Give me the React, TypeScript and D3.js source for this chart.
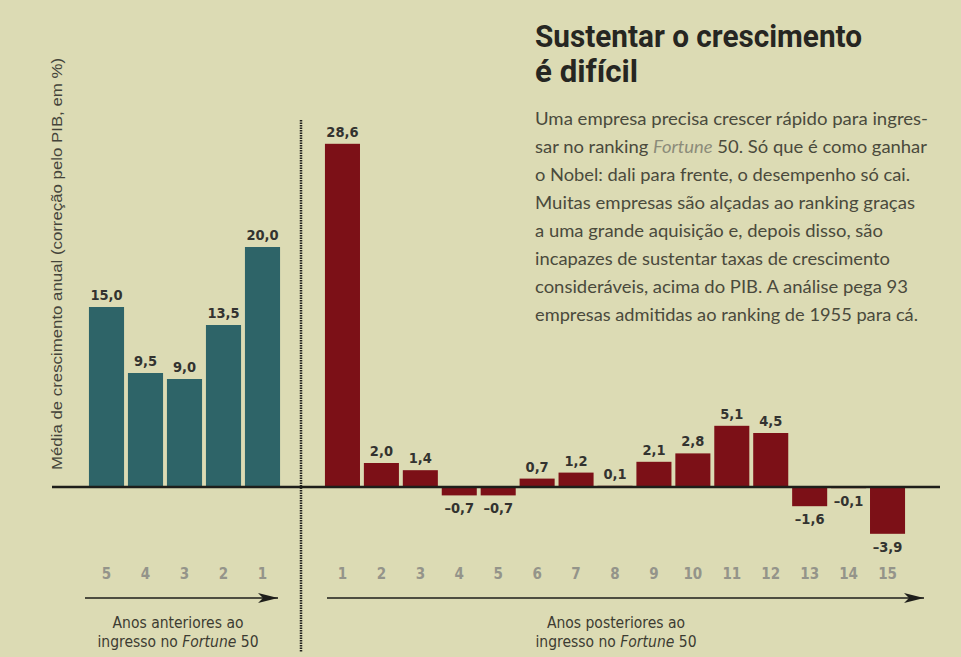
import React from "react";
import * as d3 from "d3";

const beforeYears = ["5", "4", "3", "2", "1"];
const beforeValues = [15.0, 9.5, 9.0, 13.5, 20.0];
const afterYears = ["1", "2", "3", "4", "5", "6", "7", "8", "9", "10", "11", "12", "13", "14", "15"];
const afterValues = [28.6, 2.0, 1.4, -0.7, -0.7, 0.7, 1.2, 0.1, 2.1, 2.8, 5.1, 4.5, -1.6, -0.1, -3.9];

const titleLines = ["Sustentar o crescimento", "é difícil"];
const bodyLines: { parts: { t: string; it?: boolean }[]; w: number }[] = [
  { parts: [{ t: "Uma empresa precisa crescer rápido para ingres-" }], w: 393 },
  { parts: [{ t: "sar no ranking " }, { t: "Fortune", it: true }, { t: " 50. Só que é como ganhar" }], w: 392 },
  { parts: [{ t: "o Nobel: dali para frente, o desempenho só cai." }], w: 375 },
  { parts: [{ t: "Muitas empresas são alçadas ao ranking graças" }], w: 380 },
  { parts: [{ t: "a uma grande aquisição e, depois disso, são" }], w: 348 },
  { parts: [{ t: "incapazes de sustentar taxas de crescimento" }], w: 355 },
  { parts: [{ t: "consideráveis, acima do PIB. A análise pega 93" }], w: 373 },
  { parts: [{ t: "empresas admitidas ao ranking de 1955 para cá." }], w: 383 },
];
const yAxisLabel = "Média de crescimento anual (correção pelo PIB, em %)";

const W = 961;
const H = 657;
const BG = "#dcdbb4";
const TEAL = "#2e6468";
const RED = "#7c1017";
const condensed = "'Liberation Sans Narrow', 'DejaVu Sans Condensed', 'Roboto', sans-serif";

const fmt = (v: number) => (v < 0 ? "–" : "") + Math.abs(v).toFixed(1).replace(".", ",");

export default function App() {
  const y = d3.scaleLinear().domain([-5, 30]).range([547, 127]);
  const xL = d3.scaleBand<string>().domain(beforeYears).range([87, 282]).paddingInner(0.1).paddingOuter(0.05);
  const xR = d3.scaleBand<string>().domain(afterYears).range([323, 907]).paddingInner(0.1).paddingOuter(0.05);
  const y0 = y(0);

  const bars = (
    years: string[],
    values: number[],
    x: d3.ScaleBand<string>,
    color: string
  ) =>
    years.map((k, i) => {
      const v = values[i];
      const bx = x(k)!;
      const bw = x.bandwidth();
      const top = Math.min(y(v), y0);
      const h = Math.abs(y(v) - y0);
      const ly = v >= 0 ? y(v) - 7 : y(v) + 18;
      return (
        <g key={k}>
          <rect x={bx} y={top} width={bw} height={Math.max(h, 1)} fill={color} />
          <text
            x={bx + bw / 2}
            y={ly}
            textAnchor="middle"
            fontFamily={condensed}
            fontWeight={700}
            fontSize={14.5}
            fill="#333330"
          >
            {fmt(v)}
          </text>
          <text
            x={bx + bw / 2}
            y={579}
            textAnchor="middle"
            fontFamily={condensed}
            fontWeight={700}
            fontSize={15}
            fill="#94948a"
          >
            {k}
          </text>
        </g>
      );
    });

  return (
    <svg
      width={W}
      height={H}
      viewBox={`0 0 ${W} ${H}`}
      style={{ position: "absolute", left: 0, top: 0, display: "block" }}
    >
      <defs>
        <marker id="arrow" viewBox="0 0 20 10" refX="20" refY="5" markerWidth="20" markerHeight="10" markerUnits="userSpaceOnUse" orient="auto">
          <path d="M0,0 L20,5 L0,10 L5,5 Z" fill="#1e1e1a" />
        </marker>
      </defs>
      <rect x={0} y={0} width={W} height={H} fill={BG} />

      {/* Title */}
      {titleLines.map((t, i) => (
        <text
          key={t}
          x={535}
          y={47 + i * 35}
          fontFamily="'Roboto', sans-serif"
          fontWeight={700}
          fontSize={31}
          fill="#262622"
          textLength={i === 0 ? 327 : 103}
          lengthAdjust="spacingAndGlyphs"
        >
          {t}
        </text>
      ))}

      {/* Body text */}
      {bodyLines.map((l, i) => (
        <text
          key={i}
          x={535}
          y={125 + i * 28}
          fontFamily="'Lato', 'Open Sans', sans-serif"
          fontSize={16.5}
          fill="#4a4a3c"
          textLength={l.w}
          lengthAdjust="spacingAndGlyphs"
        >
          {l.parts.map((p, j) => (
            <tspan key={j} fontStyle={p.it ? "italic" : "normal"} fill={p.it ? "#8c8c7a" : "#4a4a3c"}>
              {p.t}
            </tspan>
          ))}
        </text>
      ))}

      {/* Y axis label */}
      <text
        transform={`translate(62, 264) rotate(-90)`}
        textAnchor="middle"
        fontFamily="'Liberation Sans', Arial, sans-serif"
        fontSize={14.5}
        fill="#44443a"
        textLength={412}
        lengthAdjust="spacingAndGlyphs"
      >
        {yAxisLabel}
      </text>

      {/* Bars */}
      {bars(beforeYears, beforeValues, xL, TEAL)}
      {bars(afterYears, afterValues, xR, RED)}

      {/* Zero line */}
      <line x1={52} x2={940} y1={y0} y2={y0} stroke="#1e1e1a" strokeWidth={2.5} />

      {/* Divider */}
      <line x1={301} x2={301} y1={120} y2={652} stroke="#22221e" strokeWidth={2.5} strokeDasharray="1.5 1" />

      {/* Arrows */}
      <line x1={85} x2={278} y1={598} y2={598} stroke="#1e1e1a" strokeWidth={1.6} markerEnd="url(#arrow)" />
      <line x1={327} x2={924} y1={598} y2={598} stroke="#1e1e1a" strokeWidth={1.6} markerEnd="url(#arrow)" />

      {/* Bottom labels */}
      <g fontFamily={condensed} fontSize={15.5} fill="#3c3c32" textAnchor="middle">
        <text x={178} y={628}>Anos anteriores ao</text>
        <text x={178} y={647}>
          ingresso no <tspan fontStyle="italic">Fortune</tspan> 50
        </text>
        <text x={616} y={628}>Anos posteriores ao</text>
        <text x={616} y={647}>
          ingresso no <tspan fontStyle="italic">Fortune</tspan> 50
        </text>
      </g>
    </svg>
  );
}
